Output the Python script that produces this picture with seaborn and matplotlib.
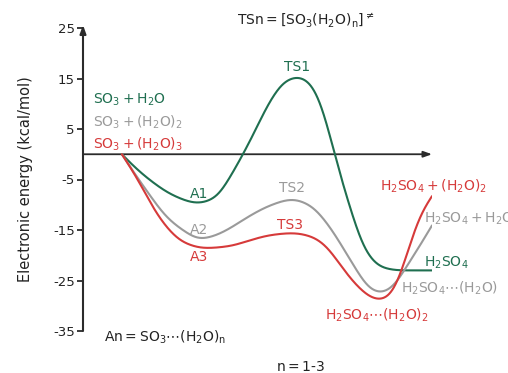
import numpy as np
import pandas as pd
import matplotlib
matplotlib.use("Agg")
import matplotlib.pyplot as plt
import seaborn as sns

# Reaction-coordinate positions and electronic energies (kcal/mol) along each pathway
x_n1 = [3.9, 6.7, 9.2, 11.5, 13.4, 14.6, 16.8, 18.8, 20.3, 21.6, 22.9, 24.1, 25.3, 26.2, 27.2, 28.2, 29.9, 31.8, 35.0]
e_n1 = [0.0, -5.1, -8.3, -9.7, -8.5, -5.0, 2.8, 10.7, 14.6, 15.4, 14.0, 8.7, -0.6, -6.8, -13.2, -18.8, -22.4, -23.0, -23.0]

x_n2 = [3.9, 6.7, 8.4, 10.0, 11.7, 13.4, 14.7, 16.8, 18.8, 21.0, 22.8, 24.5, 25.8, 27.2, 28.9, 29.9, 31.2, 32.2, 33.5, 35.0]
e_n2 = [0.0, -8.1, -12.5, -15.0, -16.8, -16.0, -14.7, -12.1, -10.1, -8.9, -10.1, -13.7, -17.6, -22.2, -26.9, -27.5, -26.1, -23.0, -19.0, -14.1]

x_n3 = [3.9, 5.7, 7.0, 8.4, 10.0, 12.2, 14.7, 16.8, 18.8, 21.1, 23.1, 24.5, 25.9, 27.5, 29.1, 29.9, 30.9, 31.9, 32.9, 33.9, 35.0]
e_n3 = [0.0, -5.7, -10.5, -14.5, -17.4, -18.6, -18.2, -17.0, -16.0, -15.6, -16.4, -18.4, -22.2, -26.1, -28.6, -28.9, -27.9, -23.6, -17.0, -11.7, -8.3]

series_names = ["n1", "n2", "n3"]
colors = {"n1": "#1f6f50", "n2": "#9a9a9a", "n3": "#d63a3a"}
y_ticks = [25, 15, 5, -5, -15, -25, -35]


def pchip(x, y, xs):
    """Monotone piecewise cubic Hermite interpolation."""
    x = np.asarray(x, float)
    y = np.asarray(y, float)
    h = np.diff(x)
    d = np.diff(y) / h
    m = np.zeros_like(y)
    for k in range(1, len(x) - 1):
        if d[k - 1] * d[k] > 0:
            w1 = 2 * h[k] + h[k - 1]
            w2 = h[k] + 2 * h[k - 1]
            m[k] = (w1 + w2) / (w1 / d[k - 1] + w2 / d[k])
    m[0] = ((2 * h[0] + h[1]) * d[0] - h[0] * d[1]) / (h[0] + h[1])
    if np.sign(m[0]) != np.sign(d[0]):
        m[0] = 0
    m[-1] = ((2 * h[-1] + h[-2]) * d[-1] - h[-1] * d[-2]) / (h[-1] + h[-2])
    if np.sign(m[-1]) != np.sign(d[-1]):
        m[-1] = 0
    idx = np.clip(np.searchsorted(x, xs) - 1, 0, len(x) - 2)
    t = (xs - x[idx]) / h[idx]
    h00 = 2 * t**3 - 3 * t**2 + 1
    h10 = t**3 - 2 * t**2 + t
    h01 = -2 * t**3 + 3 * t**2
    h11 = t**3 - t**2
    return h00 * y[idx] + h10 * h[idx] * m[idx] + h01 * y[idx + 1] + h11 * h[idx] * m[idx + 1]


def smooth_curve(x, y, n=1400, sigma=0.65):
    """Dense PCHIP curve, softened with a Gaussian kernel (odd reflection at the ends)."""
    xx = np.linspace(x[0], x[-1], n)
    yy = pchip(x, y, xx)
    step = xx[1] - xx[0]
    half = int(4 * sigma / step)
    k = np.exp(-0.5 * (np.arange(-half, half + 1) * step / sigma) ** 2)
    k /= k.sum()
    left = 2 * yy[0] - yy[1:half + 1][::-1]
    right = 2 * yy[-1] - yy[-half - 1:-1][::-1]
    padded = np.concatenate([left, yy, right])
    return xx, np.convolve(padded, k, mode="valid")


frames = []
for name, xs_, es_ in zip(series_names, [x_n1, x_n2, x_n3], [e_n1, e_n2, e_n3]):
    xx, yy = smooth_curve(xs_, es_)
    frames.append(pd.DataFrame({"x": xx, "E": yy, "path": name}))
df = pd.concat(frames, ignore_index=True)

sns.set_style("white")
plt.rcParams["font.family"] = ["DejaVu Sans"]
plt.rcParams["mathtext.default"] = "regular"

fig = plt.figure(figsize=(5.08, 3.73), dpi=100)
ax = fig.add_axes([83 / 508, 42 / 373, 349 / 508, 303 / 373])

sns.lineplot(data=df, x="x", y="E", hue="path", palette=colors, sort=False,
             estimator=None, linewidth=1.5, legend=False, ax=ax, zorder=3)

axis_col = "#2b2b2b"
ax.set_xlim(0, 35)
ax.set_ylim(-35, 25)
for s in ["top", "right", "bottom", "left"]:
    ax.spines[s].set_visible(False)
ax.set_xticks([])
ax.set_yticks(y_ticks)
ax.set_yticklabels([str(v) for v in y_ticks])
ax.tick_params(axis="y", direction="out", length=4, width=1.3, color=axis_col,
               labelsize=9.5, labelcolor="#222222", pad=2, left=True)
ax.set_xlabel("")
ax.set_ylabel("Electronic energy (kcal/mol)", fontsize=10.5, color="#222222", labelpad=14)

# Axes drawn as arrows
ax.annotate("", xy=(0, 25.6), xytext=(0, -35), xycoords="data",
            arrowprops=dict(arrowstyle="-|>,head_length=0.5,head_width=0.18", lw=1.5,
                            color=axis_col, shrinkA=0, shrinkB=0), annotation_clip=False)
ax.annotate("", xy=(35, 0), xytext=(0, 0), xycoords="data",
            arrowprops=dict(arrowstyle="-|>,head_length=0.5,head_width=0.18", lw=1.3,
                            color=axis_col, shrinkA=0, shrinkB=0), annotation_clip=False, zorder=2)

fs = 10
dark = "#222222"
g, gr, r = colors["n1"], colors["n2"], colors["n3"]
labels = [
    (15.4, 26.6, r"$TSn=[SO_3(H_2O)_n]^{\neq}$", dark, "left"),
    (1.0, 10.7, r"$SO_3+H_2O$", g, "left"),
    (1.0, 6.3, r"$SO_3+(H_2O)_2$", gr, "left"),
    (1.0, 2.0, r"$SO_3+(H_2O)_3$", r, "left"),
    (21.5, 17.2, "TS1", g, "center"),
    (11.6, -7.9, "A1", g, "center"),
    (11.6, -15.0, "A2", gr, "center"),
    (11.6, -20.4, "A3", r, "center"),
    (21.0, -6.7, "TS2", gr, "center"),
    (20.8, -14.1, "TS3", r, "center"),
    (29.8, -6.3, r"$H_2SO_4+(H_2O)_2$", r, "left"),
    (34.2, -12.7, r"$H_2SO_4+H_2O$", gr, "left"),
    (34.2, -21.4, r"$H_2SO_4$", g, "left"),
    (31.9, -26.5, r"$H_2SO_4\cdots(H_2O)$", gr, "left"),
    (24.3, -31.9, r"$H_2SO_4\cdots(H_2O)_2$", r, "left"),
    (2.1, -36.2, r"$An=SO_3\cdots(H_2O)_n$", dark, "left"),
    (19.4, -42.2, r"$n=1$-$3$", dark, "left"),
]
for x, y, s, c, ha in labels:
    ax.text(x, y, s, color=c, fontsize=fs, ha=ha, va="center", clip_on=False)

fig.savefig("out.png", dpi=100)
